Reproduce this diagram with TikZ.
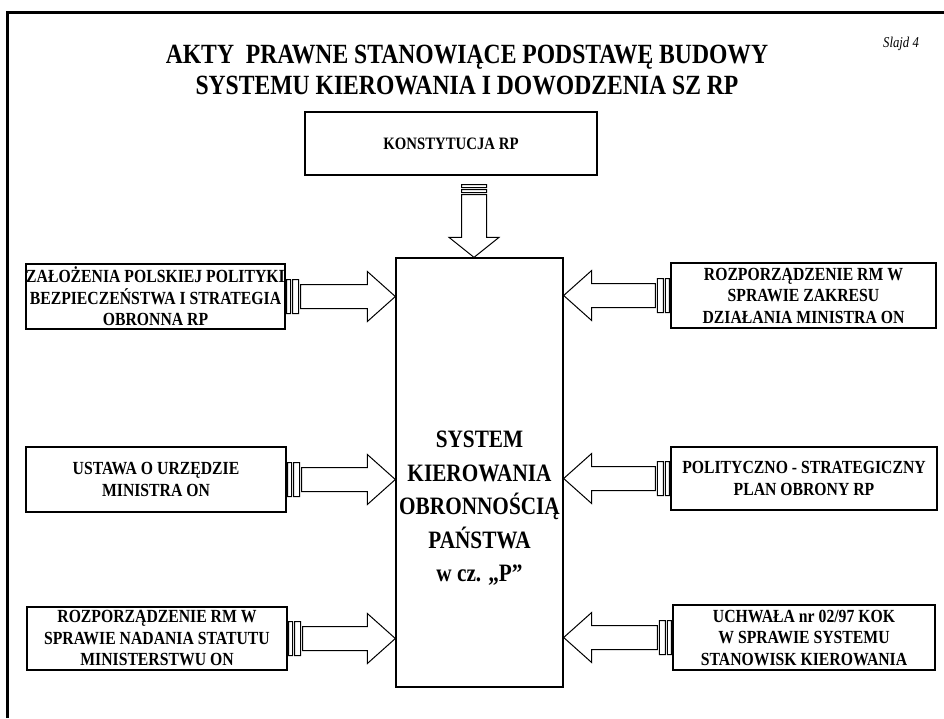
\documentclass[tikz,border=0pt]{standalone}
\usepackage{fontspec}
\setmainfont{Liberation Serif}[FakeStretch=0.85]
\usetikzlibrary{calc}

% block arrow pointing right, from the east side of #1 to #2
\newcommand\rightarr[2]{%
\draw[arrline] let \p1=(#1.east), \p2=(#2.west |- #1.east) in
  (\x1+1pt,\y1-17pt) rectangle (\x1+5pt,\y1+17pt)
  (\x1+7pt,\y1-17pt) rectangle (\x1+13pt,\y1+17pt)
  (\x1+15pt,\y1-12pt) -- (\x2-28pt,\y1-12pt) -- (\x2-28pt,\y1-25pt) -- (\x2,\y1)
  -- (\x2-28pt,\y1+25pt) -- (\x2-28pt,\y1+12pt) -- (\x1+15pt,\y1+12pt) -- cycle;}
% block arrow pointing left, from the west side of #1 to #2
\newcommand\leftarr[2]{%
\draw[arrline] let \p1=(#1.west), \p2=(#2.east |- #1.west) in
  (\x1-1pt,\y1-17pt) rectangle (\x1-5pt,\y1+17pt)
  (\x1-7pt,\y1-17pt) rectangle (\x1-13pt,\y1+17pt)
  (\x1-15pt,\y1-12pt) -- (\x2+28pt,\y1-12pt) -- (\x2+28pt,\y1-25pt) -- (\x2,\y1)
  -- (\x2+28pt,\y1+25pt) -- (\x2+28pt,\y1+12pt) -- (\x1-15pt,\y1+12pt) -- cycle;}

\begin{document}
\begin{tikzpicture}[x=1pt, y=-1pt,
  box/.style={draw, line width=1.3pt, align=center, inner sep=0pt,
    font=\fontsize{18.5}{21.5}\selectfont\bfseries},
  mainbox/.style={draw, line width=1.3pt, inner sep=0pt},
  maintext/.style={align=center, font=\fontsize{25}{33.5}\selectfont\bfseries},
  arrline/.style={line width=1pt, fill=white, line join=miter}]

\useasboundingbox (0,0) rectangle (944,718);
% frame of the slide
\draw[line width=3pt] (7,718) -- (7,12) -- (944,12);

\node[font=\fontsize{27.8}{31}\selectfont\bfseries, align=center] (title) at (467,70)
  {AKTY\ \ PRAWNE STANOWIĄCE PODSTAWĘ BUDOWY\\SYSTEMU KIEROWANIA I DOWODZENIA SZ RP};
\node[font=\fontsize{15}{17}\selectfont\itshape] (slide) at (901,44) {Slajd 4};

\node[box, minimum width=292, minimum height=63,
  font=\fontsize{17.4}{20}\selectfont\bfseries] (konst) at (451,143.5) {KONSTYTUCJA RP};

\node[mainbox, minimum width=167, minimum height=429,
  label={[maintext, yshift=-36pt]center:SYSTEM\\KIEROWANIA\\OBRONNOŚCIĄ\\PAŃSTWA\\w cz. „P”}]
  (sys) at (479.5,472.5) {};

% left column
\node[box, minimum width=259, minimum height=65] (zal) at (155.5,296.5)
  {ZAŁOŻENIA POLSKIEJ POLITYKI\\BEZPIECZEŃSTWA I STRATEGIA\\OBRONNA RP};
\node[box, minimum width=260, minimum height=65] (ust) at (156,479.5)
  {USTAWA O URZĘDZIE\\MINISTRA ON};
\node[box, minimum width=260, minimum height=63] (stat) at (157,638.5)
  {ROZPORZĄDZENIE RM W\\SPRAWIE NADANIA STATUTU\\MINISTERSTWU ON};

% right column
\node[box, minimum width=265, minimum height=65] (zakr) at (803.5,295.5)
  {ROZPORZĄDZENIE RM W\\SPRAWIE ZAKRESU\\DZIAŁANIA MINISTRA ON};
\node[box, minimum width=266, minimum height=63] (plan) at (804,478.5)
  {POLITYCZNO - STRATEGICZNY\\PLAN OBRONY RP};
\node[box, minimum width=262, minimum height=65] (uchw) at (804,637.5)
  {UCHWAŁA nr 02/97 KOK\\W SPRAWIE SYSTEMU\\STANOWISK KIEROWANIA};

\rightarr{zal}{sys}
\rightarr{ust}{sys}
\rightarr{stat}{sys}
\leftarr{zakr}{sys}
\leftarr{plan}{sys}
\leftarr{uchw}{sys}

% arrow from the constitution down
\coordinate (kin) at ([xshift=23pt]konst.south);
\draw[arrline] let \p1=(kin), \p2=(kin |- sys.north) in
  (\x1-12.5pt,\y1-9pt) rectangle (\x1+12.5pt,\y1-12pt)
  (\x1-12.5pt,\y1-14pt) rectangle (\x1+12.5pt,\y1-17pt)
  (\x1-12.5pt,\y1-19pt) -- (\x1-12.5pt,\y2+20pt) -- (\x1-25pt,\y2+20pt) -- (\x2,\y2)
  -- (\x1+25pt,\y2+20pt) -- (\x1+12.5pt,\y2+20pt) -- (\x1+12.5pt,\y1-19pt) -- cycle;

\end{tikzpicture}
\end{document}
